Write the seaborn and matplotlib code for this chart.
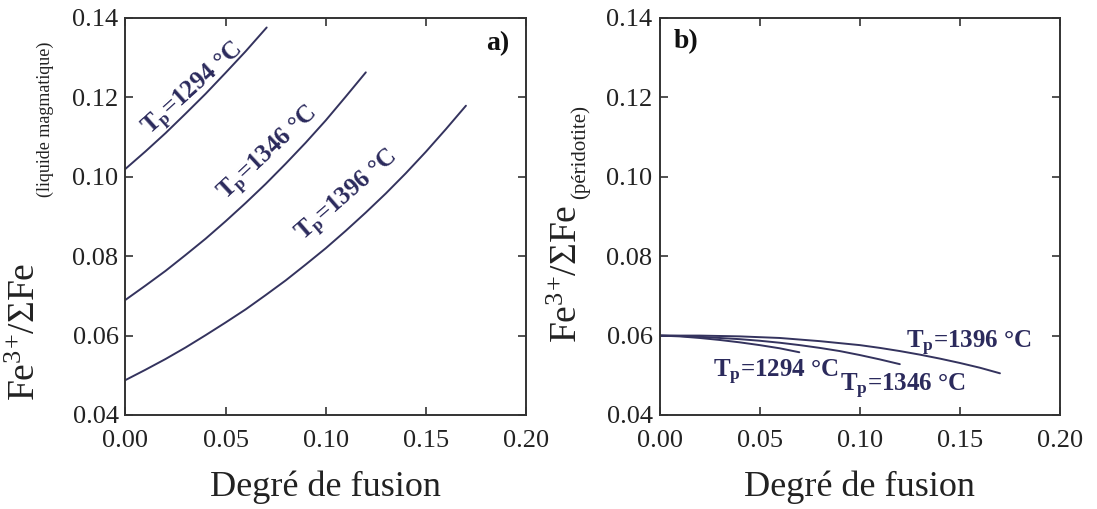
import pandas as pd
import matplotlib
matplotlib.use('Agg')
import matplotlib.pyplot as plt
import seaborn as sns

# panel a: Fe3+/SumFe of the melt (step 0.01)
a_x_1294 = [0.0, 0.01, 0.02, 0.03, 0.04, 0.05, 0.06, 0.0705]
a_y_1294 = [0.1020, 0.1064, 0.1110, 0.1159, 0.1209, 0.1262, 0.1316, 0.1376]
a_x_1346 = [0.0, 0.01, 0.02, 0.03, 0.04, 0.05, 0.06, 0.07, 0.08, 0.09, 0.10, 0.11, 0.12]
a_y_1346 = [0.0690, 0.0726, 0.0763, 0.0803, 0.0844, 0.0888, 0.0934, 0.0982, 0.1033,
            0.1086, 0.1142, 0.1202, 0.1263]
a_x_1396 = [0.0, 0.01, 0.02, 0.03, 0.04, 0.05, 0.06, 0.07, 0.08, 0.09, 0.10, 0.11,
            0.12, 0.13, 0.14, 0.15, 0.16, 0.17]
a_y_1396 = [0.0488, 0.0514, 0.0541, 0.0570, 0.0601, 0.0633, 0.0666, 0.0702, 0.0739,
            0.0779, 0.0820, 0.0864, 0.0910, 0.0958, 0.1009, 0.1063, 0.1120, 0.1179]

# panel b: Fe3+/SumFe of the peridotite
b_x_1294 = [0.0, 0.01, 0.02, 0.03, 0.04, 0.05, 0.06, 0.0698]
b_y_1294 = [0.0600, 0.0598, 0.0594, 0.0589, 0.0583, 0.0576, 0.0568, 0.0558]
b_x_1346 = [0.0, 0.01, 0.02, 0.03, 0.04, 0.05, 0.06, 0.07, 0.08, 0.09, 0.10, 0.11, 0.12]
b_y_1346 = [0.0600, 0.0599, 0.0597, 0.0594, 0.0591, 0.0587, 0.0582, 0.0576, 0.0569,
            0.0561, 0.0551, 0.0540, 0.0528]
b_x_1396 = [0.0, 0.01, 0.02, 0.03, 0.04, 0.05, 0.06, 0.07, 0.08, 0.09, 0.10, 0.11,
            0.12, 0.13, 0.14, 0.15, 0.16, 0.17]
b_y_1396 = [0.0600, 0.0600, 0.0600, 0.0599, 0.0598, 0.0596, 0.0594, 0.0590, 0.0586,
            0.0581, 0.0576, 0.0569, 0.0561, 0.0552, 0.0542, 0.0531, 0.0519, 0.0505]

temps = ['1294', '1346', '1396']
x_ticks = [0.00, 0.05, 0.10, 0.15, 0.20]
y_ticks = [0.04, 0.06, 0.08, 0.10, 0.12, 0.14]

line_col = '#34335e'
text_col = '#2b2a5c'


def make_df(xs, ys):
    df = pd.DataFrame()
    for t, x, y in zip(temps, xs, ys):
        df = pd.concat([df, pd.DataFrame({'x': x, 'y': y, 'Tp': t})])
    return df.reset_index(drop=True)


df_a = make_df([a_x_1294, a_x_1346, a_x_1396], [a_y_1294, a_y_1346, a_y_1396])
df_b = make_df([b_x_1294, b_x_1346, b_x_1396], [b_y_1294, b_y_1346, b_y_1396])

sns.set_style('ticks')
plt.rcParams['font.family'] = ['Liberation Serif', 'DejaVu Serif']
plt.rcParams['mathtext.fontset'] = 'custom'
plt.rcParams['mathtext.rm'] = 'Liberation Serif'
plt.rcParams['mathtext.it'] = 'Liberation Serif:italic'
plt.rcParams['mathtext.bf'] = 'Liberation Serif:bold'

fig = plt.figure(figsize=(10.97, 5.09), dpi=100)
ax1 = fig.add_axes([0.1144, 0.1847, 0.3651, 0.7800])
ax2 = fig.add_axes([0.6012, 0.1847, 0.3651, 0.7800])

for ax, df in [(ax1, df_a), (ax2, df_b)]:
    sns.lineplot(data=df, x='x', y='y', hue='Tp', units='Tp', estimator=None, sort=False,
                 palette=[line_col] * 3, linewidth=1.4, legend=False, ax=ax)
    ax.set_xlim(0, 0.2)
    ax.set_ylim(0.04, 0.14)
    ax.set_xticks(x_ticks)
    ax.set_yticks(y_ticks)
    ax.set_xticklabels([f'{v:.2f}' for v in x_ticks])
    ax.set_yticklabels([f'{v:.2f}' for v in y_ticks])
    ax.tick_params(direction='in', top=True, right=True, length=6, width=1.2,
                   labelsize=19, colors='#333333', labelcolor='#222222')
    ax.tick_params(axis='x', pad=11)
    ax.tick_params(axis='y', pad=5)
    for s in ax.spines.values():
        s.set_linewidth(1.4)
        s.set_color('#333333')
    ax.set_xlabel('Degré de fusion', fontsize=26, color='#222222', labelpad=13)
    ax.set_ylabel('')

# curve labels, panel a
lab_kw = dict(fontsize=18, fontweight='bold', color=text_col, ha='center', va='center',
              rotation_mode='anchor')
ax1.text(0.0340, 0.1218, r'T$_{\mathbf{p}}$=1294 °C', rotation=42, **lab_kw)
ax1.text(0.0716, 0.1055, r'T$_{\mathbf{p}}$=1346 °C', rotation=43, **lab_kw)
ax1.text(0.1112, 0.0950, r'T$_{\mathbf{p}}$=1396 °C', rotation=41, **lab_kw)
ax1.text(0.93, 0.935, 'a)', transform=ax1.transAxes, fontsize=20, fontweight='bold',
         ha='center', va='center', color='#111111')

# curve labels, panel b
ax2.text(0.1546, 0.0580, r'T$_{\mathbf{p}}$=1396 °C', **lab_kw)
ax2.text(0.0581, 0.0507, r'T$_{\mathbf{p}}$=1294 °C', **lab_kw)
ax2.text(0.1213, 0.0471, r'T$_{\mathbf{p}}$=1346 °C', **lab_kw)
ax2.text(0.065, 0.94, 'b)', transform=ax2.transAxes, fontsize=20, fontweight='bold',
         ha='center', va='center', color='#111111')

# y labels with small subscript part
ylab = r'Fe$^{3}$$^{+}$/ΣFe'
fig.text(26 / 1097, 1 - 332 / 509, ylab, rotation=90, fontsize=27,
         ha='center', va='center', color='#222222')
fig.text(45 / 1097, 1 - 119 / 509, '(liquide magmatique)', rotation=90, fontsize=13,
         ha='center', va='center', color='#222222')
fig.text(568 / 1097, 1 - 274 / 509, ylab, rotation=90, fontsize=27,
         ha='center', va='center', color='#222222')
fig.text(580 / 1097, 1 - 152 / 509, '(péridotite)', rotation=90, fontsize=15,
         ha='center', va='center', color='#222222')

fig.savefig('out.png', dpi=100)
